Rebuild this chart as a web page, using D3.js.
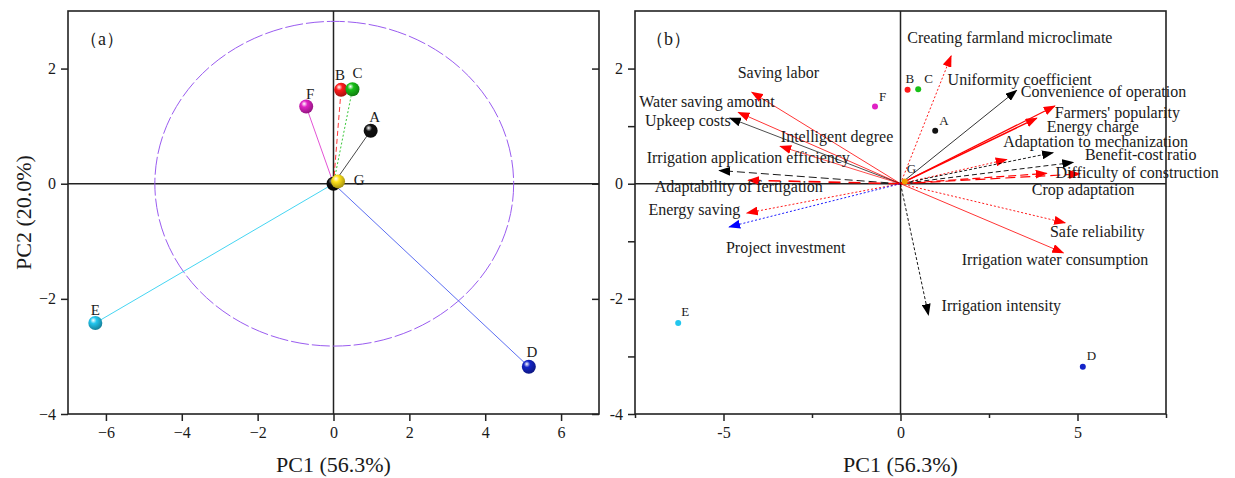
<!DOCTYPE html>
<html>
<head>
<meta charset="utf-8">
<script src="https://cdn.jsdelivr.net/npm/d3@7"></script>
<style>
  body { margin: 0; background: #fff; }
  text { font-family: "Liberation Serif", "Times New Roman", serif; fill: #1a1a1a; }
</style>
</head>
<body>
<script>
// Datos: puntuaciones de los tratamientos (PC1, PC2)
const puntos = ["A", "B", "C", "D", "E", "F", "G"];
const pc1 = [0.98, 0.2, 0.5, 5.15, -6.28, -0.72, 0.12];
const pc2 = [0.92, 1.63, 1.64, -3.18, -2.42, 1.34, 0.04];
const origen = [0, 0];
const radioCirculo = [4.73, 2.82];

// Cargas de las variables (panel b)
const variables = [
  "Saving labor", "Water saving amount", "Upkeep costs", "Intelligent degree",
  "Irrigation application efficiency", "Adaptability of fertigation", "Energy saving",
  "Project investment", "Creating farmland microclimate", "Uniformity coefficient",
  "Convenience of operation", "Farmers' popularity", "Energy charge",
  "Adaptation to mechanization", "Benefit-cost ratio", "Difficulty of construction",
  "Crop adaptation", "Safe reliability", "Irrigation water consumption", "Irrigation intensity"
];
const cargaX = [-4.20, -4.58, -4.82, -3.40, -5.12, -4.30, -4.34, -4.84, 1.43, 3.85,
                3.28, 4.36, 3.00, 4.31, 4.88, 4.13, 5.07, 4.65, 4.60, 0.79];
const cargaY = [1.59, 1.24, 1.14, 0.65, 0.23, 0.06, -0.51, -0.75, 2.22, 1.14,
                1.62, 1.35, 0.42, 0.54, 0.37, 0.18, 0.17, -0.68, -1.20, -2.28];
// Donde se escribe cada etiqueta (en unidades de los ejes)
const etiquetaX = [-4.60, -7.38, -7.22, -3.38, -7.17, -6.94, -7.12, -4.93, 0.19, 1.33,
                   3.40, 4.36, 4.13, 2.90, 5.21, 4.38, 3.71, 4.22, 1.73, 1.16];
const etiquetaY = [1.84, 1.34, 1.00, 0.73, 0.36, -0.14, -0.54, -1.21, 2.44, 1.71,
                   1.50, 1.15, 0.89, 0.64, 0.41, 0.10, -0.20, -0.92, -1.41, -2.21];

// Ticks
const ticksXA = [-6, -4, -2, 0, 2, 4, 6];
const ticksY = [-4, -2, 0, 2];
const ticksYMenor = [-3, -1, 1];
const ticksXB = [-5, 0, 5];
const ticksXBMenor = [-7.5, -2.5, 2.5, 7.5];

// Estilos
const colorPunto = { A: "#111", B: "#ff1a1a", C: "#18c018", D: "#1424c8", E: "#22c6ee", F: "#e022c4", G: "#ffe21a" };
const colorLineaA = { A: "#333", B: "#ff2020", C: "#20c020", D: "#4a5ef0", E: "#30d0f0", F: "#e040d0" };
const trazoLineaA = { A: null, B: "5,3", C: "2,2", D: null, E: null, F: null };
const estiloFlecha = {
  "Saving labor": ["red", null, 0.8],
  "Water saving amount": ["red", null, 0.8],
  "Upkeep costs": ["black", null, 0.7],
  "Intelligent degree": ["red", null, 0.7],
  "Irrigation application efficiency": ["black", "8,4", 0.9],
  "Adaptability of fertigation": ["red", "12,8", 1.6],
  "Energy saving": ["red", "2,2", 0.9],
  "Project investment": ["blue", "2,2", 0.9],
  "Creating farmland microclimate": ["red", "2,2", 0.9],
  "Uniformity coefficient": ["red", null, 1.4],
  "Convenience of operation": ["black", null, 0.8],
  "Farmers' popularity": ["red", null, 1.2],
  "Energy charge": ["red", "2,2", 0.9],
  "Adaptation to mechanization": ["black", "3,2", 0.9],
  "Benefit-cost ratio": ["black", "5,3", 0.9],
  "Difficulty of construction": ["red", "8,4", 1.2],
  "Crop adaptation": ["red", "10,5", 1.2],
  "Safe reliability": ["red", "2,2", 0.9],
  "Irrigation water consumption": ["red", null, 0.8],
  "Irrigation intensity": ["black", "3,2", 0.9]
};

const svg = d3.select("body").append("svg")
    .attr("width", 1235)
    .attr("height", 478);
const defs = svg.append("defs");

// Gradientes para las bolas 3D
puntos.forEach(p => {
    const g = defs.append("radialGradient")
        .attr("id", "bola-" + p)
        .attr("cx", "40%").attr("cy", "35%").attr("r", "65%")
        .attr("fx", "35%").attr("fy", "30%");
    g.append("stop").attr("offset", "0%").attr("stop-color", "#fff");
    g.append("stop").attr("offset", "35%").attr("stop-color", colorPunto[p]);
    g.append("stop").attr("offset", "100%").attr("stop-color", d3.color(colorPunto[p]).darker(1.2));
});
// Puntas de flecha
["red", "black", "blue"].forEach(c => {
    defs.append("marker")
        .attr("id", "punta-" + c)
        .attr("markerUnits", "userSpaceOnUse")
        .attr("viewBox", "0 0 12 9")
        .attr("markerWidth", 12).attr("markerHeight", 9)
        .attr("refX", 11).attr("refY", 4.5)
        .attr("orient", "auto")
        .append("path")
        .attr("d", "M0,0L12,4.5L0,9Z")
        .attr("fill", c);
});

function estiloEje(g) {
    g.select(".domain").remove();
    g.selectAll(".tick line").attr("stroke", "#222").attr("stroke-width", 1.5);
    g.selectAll(".tick text").attr("font-size", 16).attr("fill", "#222")
        .attr("font-family", "Liberation Serif, serif");
}

// ---------------- Panel (a) ----------------
const xA = d3.scaleLinear().domain([-7, 7]).range([68, 599]);
const yA = d3.scaleLinear().domain([-4, 3]).range([414, 11]);
const entero = d3.format("d");

svg.append("g")
    .attr("transform", "translate(0,414)")
    .call(d3.axisBottom(xA).tickValues(ticksXA).tickSize(7).tickPadding(6).tickFormat(entero))
    .call(estiloEje);
svg.append("g")
    .attr("transform", "translate(68,0)")
    .call(d3.axisLeft(yA).tickValues(ticksY).tickSize(7).tickPadding(5).tickFormat(entero))
    .call(estiloEje);
svg.append("g")
    .attr("transform", "translate(599,0)")
    .call(d3.axisLeft(yA).tickValues(ticksY).tickSize(7).tickFormat(""))
    .call(estiloEje);

svg.append("rect")
    .attr("x", 68).attr("y", 11)
    .attr("width", 599 - 68).attr("height", 414 - 11)
    .attr("fill", "none").attr("stroke", "#222").attr("stroke-width", 1.6);

svg.append("line")
    .attr("x1", xA(-7)).attr("x2", xA(7))
    .attr("y1", yA(0)).attr("y2", yA(0))
    .attr("stroke", "#222").attr("stroke-width", 1.5);
svg.append("line")
    .attr("x1", xA(0)).attr("x2", xA(0))
    .attr("y1", yA(3)).attr("y2", yA(-4))
    .attr("stroke", "#222").attr("stroke-width", 1.5);

svg.append("ellipse")
    .attr("cx", xA(0.02)).attr("cy", yA(0))
    .attr("rx", xA(radioCirculo[0]) - xA(0))
    .attr("ry", yA(0) - yA(radioCirculo[1]))
    .attr("fill", "none")
    .attr("stroke", "#9a5cf0")
    .attr("stroke-width", 1)
    .attr("stroke-dasharray", "18,3");

const datosA = puntos.map((p, i) => ({ nombre: p, x: pc1[i], y: pc2[i] }));

// Lineas desde el origen
svg.selectAll(".linea-a")
    .data(datosA.filter(d => d.nombre !== "G"))
    .enter().append("line")
    .attr("class", "linea-a")
    .attr("x1", xA(origen[0])).attr("y1", yA(origen[1]))
    .attr("x2", d => xA(d.x)).attr("y2", d => yA(d.y))
    .attr("stroke", d => colorLineaA[d.nombre])
    .attr("stroke-width", 0.9)
    .attr("stroke-dasharray", d => trazoLineaA[d.nombre]);

// Bola negra en el origen
const gOrigen = defs.append("radialGradient")
    .attr("id", "bola-origen")
    .attr("cx", "40%").attr("cy", "35%").attr("r", "65%")
    .attr("fx", "35%").attr("fy", "30%");
gOrigen.append("stop").attr("offset", "0%").attr("stop-color", "#999");
gOrigen.append("stop").attr("offset", "35%").attr("stop-color", "#111");
gOrigen.append("stop").attr("offset", "100%").attr("stop-color", "#000");
svg.append("circle")
    .attr("cx", xA(origen[0])).attr("cy", yA(origen[1]))
    .attr("r", 7)
    .attr("fill", "url(#bola-origen)");

svg.selectAll(".bola")
    .data(datosA)
    .enter().append("circle")
    .attr("class", "bola")
    .attr("cx", d => xA(d.x)).attr("cy", d => yA(d.y))
    .attr("r", 7)
    .attr("fill", d => "url(#bola-" + d.nombre + ")");

const offA = { A: [4, -9], B: [-1, -10], C: [5, -11], D: [3, -10], E: [0, -8], F: [4, -8], G: [21, 4] };
svg.selectAll(".etq-a")
    .data(datosA)
    .enter().append("text")
    .attr("class", "etq-a")
    .attr("x", d => xA(d.x) + offA[d.nombre][0])
    .attr("y", d => yA(d.y) + offA[d.nombre][1])
    .attr("text-anchor", "middle")
    .attr("font-size", 15)
    .text(d => d.nombre);

svg.append("text")
    .attr("x", 80).attr("y", 45)
    .attr("font-size", 18)
    .text("（a）");

svg.append("text")
    .attr("x", xA(0)).attr("y", 472)
    .attr("text-anchor", "middle")
    .attr("font-size", 22)
    .text("PC1 (56.3%)");
svg.append("text")
    .attr("transform", "translate(31," + ((414 + 11) / 2) + ") rotate(-90)")
    .attr("text-anchor", "middle")
    .attr("font-size", 22)
    .text("PC2 (20.0%)");

// ---------------- Panel (b) ----------------
const xB = d3.scaleLinear().domain([-7.5, 7.5]).range([635, 1166]);
const yB = d3.scaleLinear().domain([-4, 3]).range([414, 11]);
const guion = d => String(d);

svg.append("g")
    .attr("transform", "translate(0,414)")
    .call(d3.axisBottom(xB).tickValues(ticksXB).tickSize(7).tickPadding(6).tickFormat(guion))
    .call(estiloEje);
svg.append("g")
    .attr("transform", "translate(0,414)")
    .call(d3.axisBottom(xB).tickValues(ticksXBMenor).tickSize(4).tickFormat(""))
    .call(estiloEje);
svg.append("g")
    .attr("transform", "translate(635,0)")
    .call(d3.axisLeft(yB).tickValues(ticksY).tickSize(7).tickPadding(5).tickFormat(guion))
    .call(estiloEje);
svg.append("g")
    .attr("transform", "translate(635,0)")
    .call(d3.axisLeft(yB).tickValues(ticksYMenor).tickSize(7).tickFormat(""))
    .call(estiloEje);

svg.append("rect")
    .attr("x", 635).attr("y", 11)
    .attr("width", 1166 - 635).attr("height", 414 - 11)
    .attr("fill", "none").attr("stroke", "#222").attr("stroke-width", 1.6);

svg.append("line")
    .attr("x1", xB(-7.5)).attr("x2", xB(7.5))
    .attr("y1", yB(0)).attr("y2", yB(0))
    .attr("stroke", "#222").attr("stroke-width", 1.5);
svg.append("line")
    .attr("x1", xB(0)).attr("x2", xB(0))
    .attr("y1", yB(3)).attr("y2", yB(-4))
    .attr("stroke", "#222").attr("stroke-width", 1.5);

const datosB = variables.map((v, i) => ({
    nombre: v, x: cargaX[i], y: cargaY[i], lx: etiquetaX[i], ly: etiquetaY[i]
}));

// Flechas de las variables
svg.selectAll(".flecha")
    .data(datosB)
    .enter().append("line")
    .attr("class", "flecha")
    .attr("x1", xB(0)).attr("y1", yB(0))
    .attr("x2", d => xB(d.x)).attr("y2", d => yB(d.y))
    .attr("stroke", d => estiloFlecha[d.nombre][0])
    .attr("stroke-dasharray", d => estiloFlecha[d.nombre][1])
    .attr("stroke-width", d => estiloFlecha[d.nombre][2])
    .attr("marker-end", d => "url(#punta-" + estiloFlecha[d.nombre][0] + ")");

svg.selectAll(".etq-var")
    .data(datosB)
    .enter().append("text")
    .attr("class", "etq-var")
    .attr("x", d => xB(d.lx)).attr("y", d => yB(d.ly))
    .attr("font-size", 16)
    .text(d => d.nombre);

// Puntos pequenos
const colorB = Object.assign({}, colorPunto, { G: "#f0a000" });
svg.selectAll(".punto-b")
    .data(datosA)
    .enter().append("circle")
    .attr("class", "punto-b")
    .attr("cx", d => xB(d.x)).attr("cy", d => yB(d.y))
    .attr("r", 3)
    .attr("fill", d => colorB[d.nombre]);

const offB = { A: [4, -6], B: [-2, -7], C: [6, -6], D: [4, -7], E: [3, -7], F: [4, -6], G: [2, -8] };
svg.selectAll(".etq-b")
    .data(datosA)
    .enter().append("text")
    .attr("class", "etq-b")
    .attr("x", d => xB(d.x) + offB[d.nombre][0])
    .attr("y", d => yB(d.y) + offB[d.nombre][1])
    .attr("font-size", 13)
    .text(d => d.nombre);

svg.append("text")
    .attr("x", 646).attr("y", 45)
    .attr("font-size", 18)
    .text("（b）");

svg.append("text")
    .attr("x", xB(0)).attr("y", 472)
    .attr("text-anchor", "middle")
    .attr("font-size", 22)
    .text("PC1 (56.3%)");
</script>
</body>
</html>
